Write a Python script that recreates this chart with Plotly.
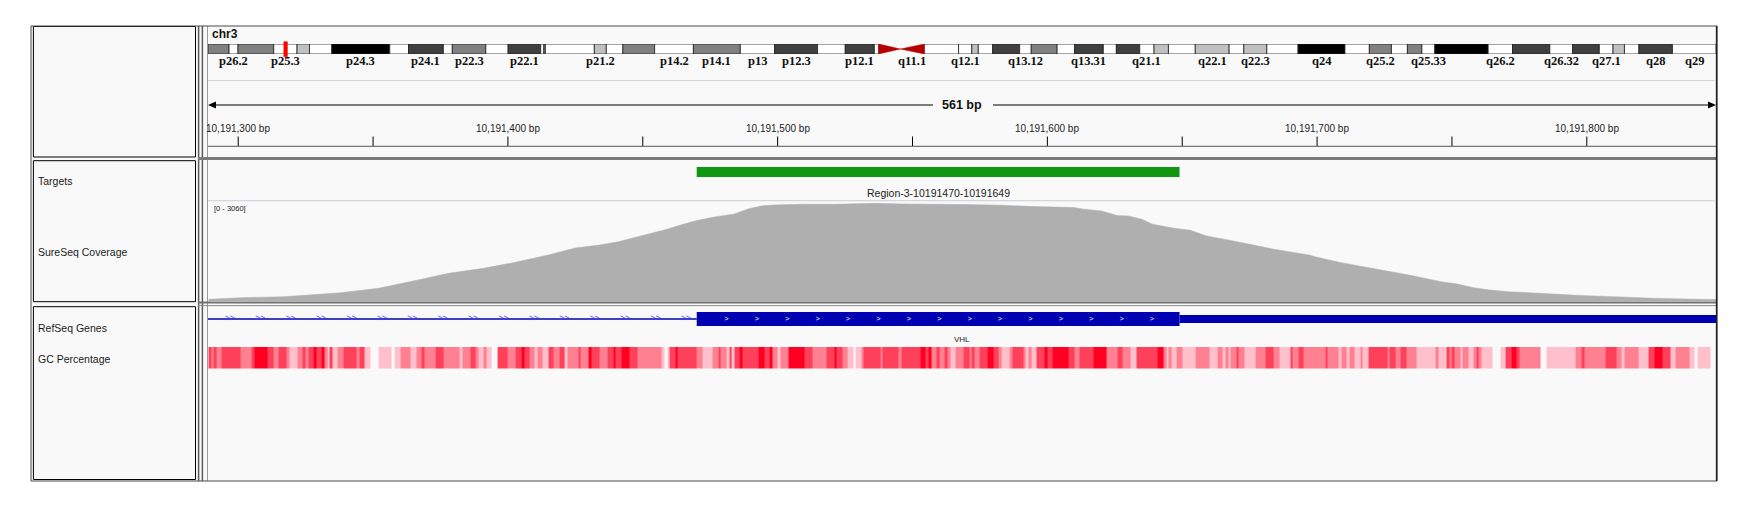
import math
import plotly.graph_objects as go

W, H = 1755, 509          # screenshot size
PAGE_MARGIN = 8           # default body margin of the html page
FW, FH = W - 2 * PAGE_MARGIN, H - 2 * PAGE_MARGIN

# ---------------- data ----------------
CHROM = "chr3"
CHROM_LEN_MB = 198.02
VIEW_START = 10191288.8
VIEW_END = 10191847.9
WINDOW_ORIGIN = 10191289
SPAN_TEXT = "561 bp"

band_names = ["p26.3", "p26.2", "p26.1", "p25.3", "p25.2", "p25.1", "p24.3", "p24.2", "p24.1", "p23",
              "p22.3", "p22.2", "p22.1", "p21.33", "p21.32", "p21.31", "p21.2", "p21.1", "p14.3", "p14.2",
              "p14.1", "p13", "p12.3", "p12.2", "p12.1", "p11.2", "p11.1", "q11.1", "q11.2", "q12.1",
              "q12.2", "q12.3", "q13.11", "q13.12", "q13.13", "q13.2", "q13.31", "q13.32", "q13.33", "q21.1",
              "q21.2", "q21.3", "q22.1", "q22.2", "q22.3", "q23", "q24", "q25.1", "q25.2", "q25.31",
              "q25.32", "q25.33", "q26.1", "q26.2", "q26.31", "q26.32", "q26.33", "q27.1", "q27.2", "q27.3",
              "q28", "q29"]
band_start_mb = [0, 2.77, 3.94, 8.63, 11.69, 13.33, 16.26, 23.87, 26.34, 30.91,
                 32.08, 36.48, 39.41, 43.69, 44.1, 44.3, 50.73, 52.3, 54.48, 58.65,
                 63.74, 69.9, 74.4, 80.04, 83.68, 87.5, 88.07, 90.93, 94.05, 98.56,
                 100.3, 101.15, 103.04, 106.58, 108.1, 111.5, 113.8, 117.57, 119.28, 122.35,
                 124.23, 126.12, 129.64, 134.09, 136.02, 139.04, 143.14, 149.3, 152.5, 155.4,
                 157.5, 159.4, 161.1, 168.1, 171.3, 176.2, 179.2, 182.7, 184.5, 186.0,
                 187.9, 192.3]
band_end_mb = [2.77, 3.94, 8.63, 11.69, 13.33, 16.26, 23.87, 26.34, 30.91, 32.08,
               36.48, 39.41, 43.69, 44.1, 44.3, 50.73, 52.3, 54.48, 58.65, 63.74,
               69.9, 74.4, 80.04, 83.68, 87.5, 88.07, 90.93, 94.05, 98.56, 100.3,
               101.15, 103.04, 106.58, 108.1, 111.5, 113.8, 117.57, 119.28, 122.35, 124.23,
               126.12, 129.64, 134.09, 136.02, 139.04, 143.14, 149.3, 152.5, 155.4, 157.5,
               159.4, 161.1, 168.1, 171.3, 176.2, 179.2, 182.7, 184.5, 186.0, 187.9,
               192.3, 198.02]
band_stain = ["gpos50", "gneg", "gpos50", "gneg", "gpos25", "gneg", "gpos100", "gneg", "gpos75", "gneg",
              "gpos50", "gneg", "gpos75", "gneg", "gpos50", "gneg", "gpos25", "gneg", "gpos50", "gneg",
              "gpos50", "gneg", "gpos75", "gneg", "gpos75", "gneg", "acen", "acen", "gvar", "gneg",
              "gpos25", "gneg", "gpos75", "gneg", "gpos50", "gneg", "gpos75", "gneg", "gpos75", "gneg",
              "gpos25", "gneg", "gpos25", "gneg", "gpos25", "gneg", "gpos100", "gneg", "gpos50", "gneg",
              "gpos50", "gneg", "gpos100", "gneg", "gpos75", "gneg", "gpos75", "gneg", "gpos25", "gneg",
              "gpos75", "gneg"]
labeled_bands = ["p26.2", "p25.3", "p24.3", "p24.1", "p22.3", "p22.1", "p21.2", "p14.2", "p14.1", "p13",
                 "p12.3", "p12.1", "q11.1", "q12.1", "q13.12", "q13.31", "q21.1", "q22.1", "q22.3", "q24",
                 "q25.2", "q25.33", "q26.2", "q26.32", "q27.1", "q28", "q29"]

target_start = 10191470
target_end = 10191649
target_label = "Region-3-10191470-10191649"

coverage_max = 3060
cov_offset = [0, 12, 28, 36, 49, 63, 73, 79, 89, 102,
              112, 126, 136, 145, 152, 158, 164, 170, 176, 181,
              187, 195, 200, 205, 210, 220, 232, 248, 257, 269,
              281, 294, 306, 321, 324, 331, 337, 341, 346, 350,
              358, 364, 370, 378, 385, 395, 408, 411, 420, 432,
              445, 457, 463, 469, 475, 482, 494, 509, 524, 538,
              553, 559]
cov_depth = [53, 103, 134, 187, 258, 395, 560, 680, 862, 1018,
             1174, 1432, 1650, 1743, 1846, 1971, 2107, 2232, 2388, 2500,
             2606, 2708, 2864, 2957, 2988, 3010, 3010, 3041, 3020, 2998,
             2998, 2979, 2935, 2904, 2864, 2802, 2655, 2646, 2543, 2388,
             2263, 2201, 2023, 1899, 1774, 1609, 1432, 1360, 1192, 1018,
             809, 601, 529, 414, 342, 290, 227, 171, 125, 78,
             53, 44]

gene_name = "VHL"
gene_tx_start = 10183500
gene_cds_start = 10191470
gene_cds_end = 10191649
gene_tx_end = 10193000

gc_offset = [0, 1, 2, 3, 5, 12, 16, 17, 22, 24,
             26, 29, 30, 33, 35, 36, 37, 39, 40, 42,
             43, 44, 45, 46, 48, 50, 55, 56, 58, 60,
             63, 68, 69, 71, 75, 77, 79, 80, 84, 87,
             93, 94, 97, 99, 100, 102, 103, 105, 107, 111,
             114, 116, 117, 119, 121, 122, 124, 126, 128, 130,
             132, 133, 137, 138, 141, 142, 145, 148, 150, 151,
             153, 156, 159, 168, 169, 170, 171, 173, 174, 181,
             183, 187, 189, 190, 192, 193, 194, 195, 197, 198,
             204, 206, 208, 209, 211, 212, 215, 221, 224, 229,
             232, 233, 235, 237, 239, 240, 242, 243, 249, 250,
             256, 257, 264, 266, 267, 268, 270, 271, 273, 274,
             275, 277, 280, 282, 283, 284, 286, 289, 291, 293,
             294, 297, 298, 302, 303, 304, 305, 307, 310, 311,
             313, 319, 321, 323, 328, 333, 337, 339, 342, 344,
             352, 354, 355, 356, 357, 359, 361, 366, 371, 374,
             376, 377, 378, 379, 381, 382, 384, 388, 392, 395,
             397, 401, 402, 404, 406, 414, 415, 419, 420, 422,
             423, 425, 427, 428, 430, 437, 438, 440, 442, 444,
             448, 455, 456, 459, 460, 461, 462, 464, 465, 467,
             469, 470, 471, 472, 476, 479, 481, 483, 485, 486,
             494, 496, 507, 509, 510, 518, 522, 524, 525, 530,
             534, 536, 539, 542, 544, 549, 551, 552, 557]
gc_last_end = 559
gc_percent = [66, 54, 66, 54, 66, 54, 66, 80, 66, 54,
              66, 54, 42, 54, 66, 54, 66, 80, 66, 80,
              54, 42, 66, 42, 54, 66, 54, 66, 42, None,
              42, None, 42, 54, 42, 54, 66, 54, 66, 54,
              42, 54, 66, 54, 42, 54, 42, None, 66, 54,
              66, 80, 66, 54, 42, 54, 42, 66, 54, 66,
              42, 54, 66, 54, 80, 66, 54, 66, 80, 66,
              80, 66, 54, 42, None, 42, 66, 80, 66, 54,
              42, 54, 66, 54, 42, 66, 42, 66, 80, 66,
              80, 66, 80, 54, 42, 54, 80, 66, 54, 66,
              80, 66, 54, 42, None, 42, 54, 66, 54, 66,
              54, 66, 80, 66, 80, 54, 66, 54, 66, 54,
              42, 54, 66, 54, 66, 54, 66, 80, 66, 54,
              42, 54, 66, 54, 42, 54, 42, 66, 80, 66,
              80, 66, 54, 66, 80, 54, 66, 54, 42, 66,
              80, 54, 42, 54, 42, 54, 42, 54, 42, 54,
              42, 54, 42, 54, 66, 54, 42, 54, 66, 54,
              42, 66, 54, 66, 54, 66, 54, 42, 54, 42,
              54, 42, 54, 42, 66, 54, 66, 54, 66, 54,
              42, 54, 42, 66, 54, 66, 54, 42, 54, 42,
              54, 66, 54, 42, None, 42, 66, 80, 66, 54,
              None, 42, 54, 66, 54, 66, 54, 42, 54, 42,
              66, 80, 66, 42, 54, 42, None, 42, None]

track_names = ["Targets", "SureSeq Coverage", "RefSeq Genes", "GC Percentage"]

# ---------------- styling / layout helpers ----------------
SANS = "Liberation Sans, Arial, sans-serif"
SERIF = "Liberation Serif, Times New Roman, serif"
PANEL_BG = "#f9f9f9"
DATA_L, DATA_R = 208, 1716      # screenshot pixels

STAIN_COLOR = {"gneg": "#ffffff", "gvar": "#ffffff", "gpos25": "#c0c0c0", "gpos50": "#808080",
               "gpos75": "#404040", "gpos100": "#000000", "acen": "rgba(0,0,0,0)"}


def X(px):
    return (px - PAGE_MARGIN) / FW


def Y(py):
    return 1 - (py - PAGE_MARGIN) / FH


shapes = []
annotations = []


def rect(x0, y0, x1, y1, fill=None, line=None, lw=1, layer="above"):
    shapes.append(dict(type="rect", xref="paper", yref="paper", x0=X(x0), x1=X(x1),
                       y0=Y(y1), y1=Y(y0), fillcolor=fill or "rgba(0,0,0,0)",
                       line=dict(color=line or "rgba(0,0,0,0)", width=lw if line else 0),
                       layer=layer))


def hline(x0, x1, y, color, lw=1):
    shapes.append(dict(type="line", xref="paper", yref="paper", x0=X(x0), x1=X(x1),
                       y0=Y(y), y1=Y(y), line=dict(color=color, width=lw)))


def vline(x, y0, y1, color, lw=1):
    shapes.append(dict(type="line", xref="paper", yref="paper", x0=X(x), x1=X(x),
                       y0=Y(y0), y1=Y(y1), line=dict(color=color, width=lw)))


def text(px, py, s, size=10, color="#1a1a1a", family=SANS, xanchor="left", bold=False, xref="paper", x=None):
    annotations.append(dict(
        x=X(px) if xref == "paper" else x, y=Y(py), xref=xref, yref="paper",
        text=f"<b>{s}</b>" if bold else s, showarrow=False, xanchor=xanchor, yanchor="middle",
        font=dict(size=size, color=color, family=family)))


# backgrounds
rect(31, 26, 1717, 481, fill=PANEL_BG, layer="below")

# ---------------- traces ----------------
fig = go.Figure()

# ideogram bands
fig.add_trace(go.Bar(
    orientation="h", y=[0] * len(band_names),
    x=[e - s for s, e in zip(band_start_mb, band_end_mb)], base=band_start_mb,
    width=1, xaxis="x2", yaxis="y5",
    marker=dict(color=[STAIN_COLOR[s] for s in band_stain],
                line=dict(color="#202020", width=[0 if s == "acen" else 0.8 for s in band_stain])),
    hoverinfo="skip"))
# centromere triangles
for nm, s, e, st in zip(band_names, band_start_mb, band_end_mb, band_stain):
    if st != "acen":
        continue
    if nm.startswith("p"):
        xs, ys = [s, s, e, s], [-0.5, 0.5, 0, -0.5]
    else:
        xs, ys = [e, e, s, e], [-0.5, 0.5, 0, -0.5]
    fig.add_trace(go.Scatter(x=xs, y=ys, mode="lines", fill="toself", fillcolor="#b40000",
                             line=dict(color="#b40000", width=0.5), xaxis="x2", yaxis="y5",
                             hoverinfo="skip"))

# target
fig.add_trace(go.Bar(orientation="h", y=[0], x=[target_end - target_start], base=[target_start],
                     width=1, marker=dict(color="#109610", line=dict(width=0)),
                     xaxis="x", yaxis="y2", hoverinfo="skip"))

# coverage
fig.add_trace(go.Scatter(x=[WINDOW_ORIGIN + o for o in cov_offset], y=cov_depth, mode="lines",
                         fill="tozeroy", fillcolor="#afafaf", line=dict(color="#afafaf", width=0.5),
                         xaxis="x", yaxis="y", hoverinfo="skip"))

# gene
fig.add_trace(go.Scatter(x=[gene_tx_start, gene_cds_start], y=[0, 0], mode="lines",
                         line=dict(color="#0000b2", width=1.3), xaxis="x", yaxis="y3", hoverinfo="skip"))
fig.add_trace(go.Bar(orientation="h", y=[0, 0],
                     x=[gene_cds_end - gene_cds_start, gene_tx_end - gene_cds_end],
                     base=[gene_cds_start, gene_cds_end], width=[1, 0.57],
                     marker=dict(color="#0000b2", line=dict(width=0)),
                     xaxis="x", yaxis="y3", hoverinfo="skip"))
BP_PER_PX = (VIEW_END - VIEW_START) / (DATA_R - DATA_L)
ARROW_STEP = 30.4 * BP_PER_PX
intron_arrows = []
p = VIEW_START + 21.8 * BP_PER_PX
while p < gene_cds_start - 4:
    intron_arrows.append(p)
    p += ARROW_STEP
exon_arrows = []
p = gene_cds_start + 11 * BP_PER_PX * 2.7
while p < gene_cds_end - 4:
    exon_arrows.append(p)
    p += ARROW_STEP
fig.add_trace(go.Scatter(x=intron_arrows, y=[0] * len(intron_arrows), mode="text", text=[">>"] * len(intron_arrows),
                         textfont=dict(size=8.5, color="#3c3cff", family=SANS), xaxis="x", yaxis="y3",
                         hoverinfo="skip"))
fig.add_trace(go.Scatter(x=exon_arrows, y=[0] * len(exon_arrows), mode="text", text=[">"] * len(exon_arrows),
                         textfont=dict(size=7.5, color="#ffffff", family=SANS), xaxis="x", yaxis="y3",
                         hoverinfo="skip"))

# GC percentage heat strip
gc_edges = [WINDOW_ORIGIN + o for o in gc_offset] + [WINDOW_ORIGIN + gc_last_end]
fig.add_trace(go.Heatmap(x=gc_edges, y=[0], z=[gc_percent], zmin=42, zmax=80,
                         colorscale=[[0, "rgb(255,192,203)"], [0.316, "rgb(255,128,145)"],
                                     [0.632, "rgb(255,64,90)"], [1, "rgb(255,0,35)"]],
                         showscale=False, xaxis="x", yaxis="y4", hoverinfo="skip"))

# ---------------- chrome ----------------
# name panels
rect(33.4, 26.5, 195.5, 157, line="#000000", lw=1)
rect(33.4, 160.7, 195.5, 301.7, line="#000000", lw=1)
rect(33.4, 306.7, 195.5, 479.5, line="#000000", lw=1)
# separators between name and data panels
vline(198.6, 26, 481, "#5a5a5a", 1.5)
vline(202.4, 26, 481, "#5a5a5a", 1.5)
vline(207.5, 26, 481, "#9a9a9a", 1)
# horizontal panel separators
rect(198, 157, 1717, 160, fill="#7a7a7a")
hline(198, 1717, 302.6, "#707070", 2)
hline(198, 1717, 305.6, "#8a8a8a", 1)
# outer frame
rect(31, 26, 1717, 481, line="#4a4a4a", lw=1)
vline(1716.6, 26, 481, "#202020", 1.5)

# header contents
text(210, 34, CHROM, size=12, bold=True, color="#111111")
hline(DATA_L, DATA_R, 80.5, "#d4d4dc", 1.2)
mid_px = (DATA_L + DATA_R) / 2
hline(DATA_L + 4, mid_px - 29, 105, "#000000", 1)
hline(mid_px + 31, DATA_R - 4, 105, "#000000", 1)
shapes.append(dict(type="path", xref="paper", yref="paper", fillcolor="#000000", line=dict(width=0),
                   path=f"M {X(DATA_L)} {Y(105)} L {X(DATA_L + 8)} {Y(101.5)} L {X(DATA_L + 8)} {Y(108.5)} Z"))
shapes.append(dict(type="path", xref="paper", yref="paper", fillcolor="#000000", line=dict(width=0),
                   path=f"M {X(DATA_R)} {Y(105)} L {X(DATA_R - 8)} {Y(101.5)} L {X(DATA_R - 8)} {Y(108.5)} Z"))
text(mid_px, 105, SPAN_TEXT, size=12.5, bold=True, xanchor="center", color="#111111")

# ruler ticks
tick = math.ceil(VIEW_START / 50) * 50
while tick < VIEW_END:
    shapes.append(dict(type="line", xref="x", yref="paper", x0=tick, x1=tick, y0=Y(146), y1=Y(136.5),
                       line=dict(color="#000000", width=1)))
    if tick % 100 == 0:
        text(0, 128, f"{tick:,} bp", size=10, xanchor="center", xref="x", x=tick, color="#222222")
    tick += 50
hline(DATA_L, DATA_R, 146.3, "#555555", 1)

# ideogram labels and current-view marker
for nm, s, e in zip(band_names, band_start_mb, band_end_mb):
    if nm in labeled_bands:
        text(0, 61, nm, size=12.5, bold=True, xanchor="center", xref="x2", x=(s + e) / 2,
             family=SERIF, color="#111111")
view_mid_mb = (VIEW_START + VIEW_END) / 2 / 1e6
half_w = 1.8 / 7.615
shapes.append(dict(type="rect", xref="x2", yref="paper", x0=view_mid_mb - half_w, x1=view_mid_mb + half_w,
                   y0=Y(56.7), y1=Y(41.7), fillcolor="#ff0000", line=dict(color="#ff0000", width=0.5)))

# track separators / labels
hline(DATA_L, DATA_R, 200.6, "#d6d6de", 1.2)
text(212, 208.5, f"[0 - {coverage_max}]", size=7.5, color="#222222")
text(0, 193, target_label, size=10.5, xanchor="center", xref="x",
     x=(target_start + target_end) / 2, color="#222222")
text(0, 339.5, gene_name, size=8, xanchor="center", xref="x", x=(VIEW_START + VIEW_END) / 2, color="#222222")

for nm, py in zip(track_names, [181, 252, 328, 358.5]):
    text(36, py, nm, size=10.5, color="#1a1a1a")

# ---------------- layout ----------------
dom_x = [X(DATA_L), X(DATA_R)]
hidden = dict(visible=False, showgrid=False, zeroline=False, fixedrange=True)
fig.update_layout(
    width=FW, height=FH, margin=dict(l=0, r=0, t=0, b=0),
    paper_bgcolor="#ffffff", plot_bgcolor="rgba(0,0,0,0)",
    showlegend=False, barmode="overlay",
    xaxis=dict(domain=dom_x, range=[VIEW_START, VIEW_END], anchor="y", **hidden),
    xaxis2=dict(domain=dom_x, range=[0, CHROM_LEN_MB], anchor="y5", **hidden),
    yaxis=dict(domain=[Y(301), Y(202.6)], range=[0, coverage_max], anchor="x", **hidden),
    yaxis2=dict(domain=[Y(177), Y(167)], range=[-0.5, 0.5], anchor="x", **hidden),
    yaxis3=dict(domain=[Y(326), Y(312)], range=[-0.5, 0.5], anchor="x", **hidden),
    yaxis4=dict(domain=[Y(368.5), Y(347)], range=[-0.5, 0.5], anchor="x", **hidden),
    yaxis5=dict(domain=[Y(54), Y(44)], range=[-0.5, 0.5], anchor="x2", **hidden),
    shapes=shapes, annotations=annotations,
)

fig.write_html("out.html")
